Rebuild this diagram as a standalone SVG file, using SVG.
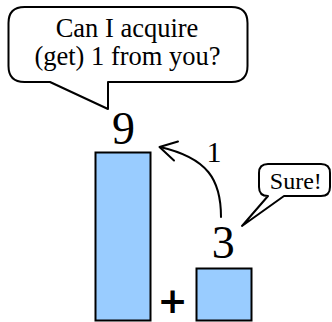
<svg xmlns="http://www.w3.org/2000/svg" width="332" height="322" viewBox="0 0 332 322">
  <rect width="332" height="322" fill="#fff"/>
  <g id="bubble-question">
    <path fill="#fff" stroke="#000" stroke-width="2" stroke-linejoin="round" d="M24.5,7 H231.5 Q247.5,7 247.5,23 V66 Q247.5,82 231.5,82 H108 V109 L50,82 H24.5 Q8.5,82 8.5,66 V23 Q8.5,7 24.5,7 Z"/>
    <text x="127" y="37" font-size="26.5" text-anchor="middle" font-family="'Liberation Serif', serif">Can I acquire</text>
    <text x="127.5" y="65" font-size="26.5" text-anchor="middle" font-family="'Liberation Serif', serif">(get) 1 from you?</text>
  </g>
  <g id="bar-nine">
    <rect fill="#99CCFF" stroke="#000" stroke-width="2" x="95.5" y="152.5" width="55" height="168"/>
    <text x="123.4" y="144" font-size="46" text-anchor="middle" font-family="'Liberation Serif', serif">9</text>
  </g>
  <g id="bar-three">
    <rect fill="#99CCFF" stroke="#000" stroke-width="2" x="196.5" y="268.5" width="55" height="52"/>
    <text x="223.3" y="258" font-size="46" text-anchor="middle" font-family="'Liberation Serif', serif">3</text>
  </g>
  <g id="plus">
    <text x="172.5" y="313" font-size="36" font-weight="bold" text-anchor="middle" font-family="'DejaVu Sans', sans-serif">+</text>
  </g>
  <g id="bubble-sure">
    <path fill="#fff" stroke="#000" stroke-width="2" stroke-linejoin="round" d="M268,164 H321 Q330,164 330,173 V187 Q330,196 321,196 H284 L242,226 L268,196 Q259,196 259,187 V173 Q259,164 268,164 Z"/>
    <text x="295.8" y="189" font-size="24" text-anchor="middle" font-family="'Liberation Serif', serif">Sure!</text>
  </g>
  <g id="connectors" fill="none" stroke="#000" stroke-width="2" stroke-linecap="round" stroke-linejoin="round">
    <path d="M221,217 C221,180 208,158 160,147"/>
    <path d="M178,141.5 L159.5,147 L174,160.5"/>
  </g>
  <g id="label-one">
    <text x="214" y="161.5" font-size="30" text-anchor="middle" font-family="'Liberation Serif', serif">1</text>
  </g>
</svg>
